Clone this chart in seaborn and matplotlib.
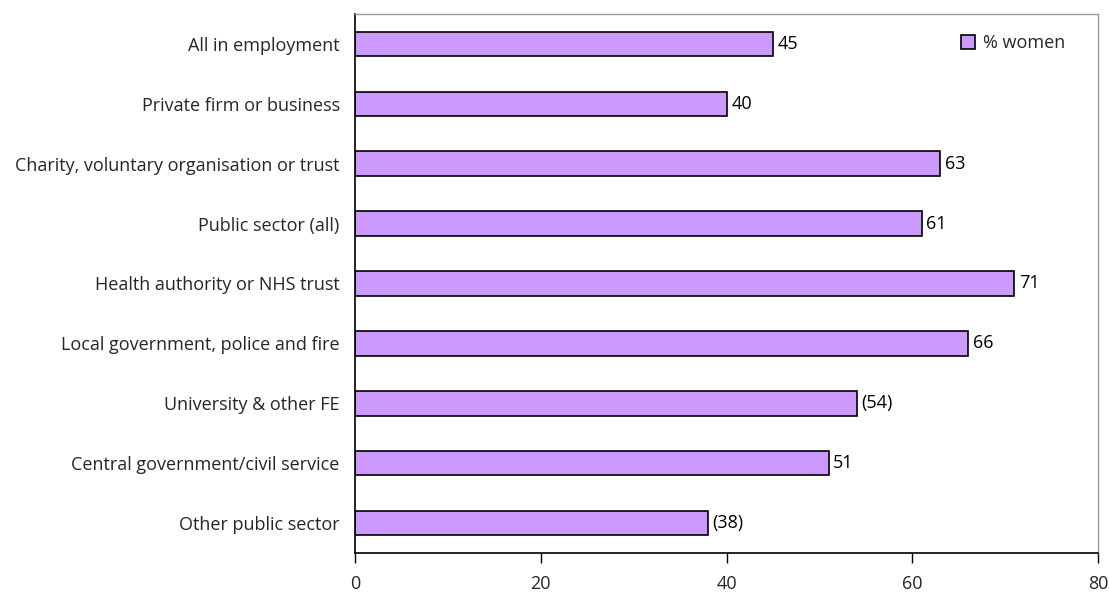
import matplotlib
matplotlib.use("Agg")
import matplotlib.pyplot as plt
import seaborn as sns
import pandas as pd

sectors = [
    "All in employment",
    "Private firm or business",
    "Charity, voluntary organisation or trust",
    "Public sector (all)",
    "Health authority or NHS trust",
    "Local government, police and fire",
    "University & other FE",
    "Central government/civil service",
    "Other public sector",
]
pct_women = [45, 40, 63, 61, 71, 66, 54, 51, 38]
value_labels = ["45", "40", "63", "61", "71", "66", "(54)", "51", "(38)"]
x_ticks = [0, 20, 40, 60, 80]

sns.set_style("white")
plt.rcParams["font.family"] = ["Open Sans", "DejaVu Sans"]

df = pd.DataFrame({"sector": sectors, "pct": pct_women})

fig = plt.figure(figsize=(11.09, 5.92), dpi=100)
ax = fig.add_axes([355 / 1109, 39 / 592, 743 / 1109, 539 / 592])

sns.barplot(data=df, x="pct", y="sector", orient="h", color="#CC99FF",
            saturation=1, width=0.41, edgecolor="black", linewidth=1.2,
            ax=ax, label="% women")

for i, (v, lab) in enumerate(zip(pct_women, value_labels)):
    ax.text(v + 0.5, i, lab, va="center", ha="left", fontsize=13, color="black")

ax.set_xlim(0, 80)
ax.set_ylim(len(sectors) - 0.5, -0.5)
ax.set_xticks(x_ticks)
ax.set_xticklabels([str(t) for t in x_ticks], fontsize=13)
ax.tick_params(axis="x", bottom=True, direction="out", length=7, width=1,
               color="black", pad=9)
ax.tick_params(axis="y", left=False, length=0, labelsize=13, pad=11)
ax.set_xlabel("")
ax.set_ylabel("")

for side in ("top", "right"):
    ax.spines[side].set_color("#999999")
    ax.spines[side].set_linewidth(1)
for side in ("left", "bottom"):
    ax.spines[side].set_color("black")
    ax.spines[side].set_linewidth(1.2)

leg = ax.legend(loc="upper left", frameon=False, fontsize=13,
                handlelength=0.8, handleheight=0.8, handletextpad=0.45,
                borderaxespad=0, borderpad=0,
                bbox_to_anchor=(0.815, 0.962))

fig.savefig("out.png", dpi=100)
